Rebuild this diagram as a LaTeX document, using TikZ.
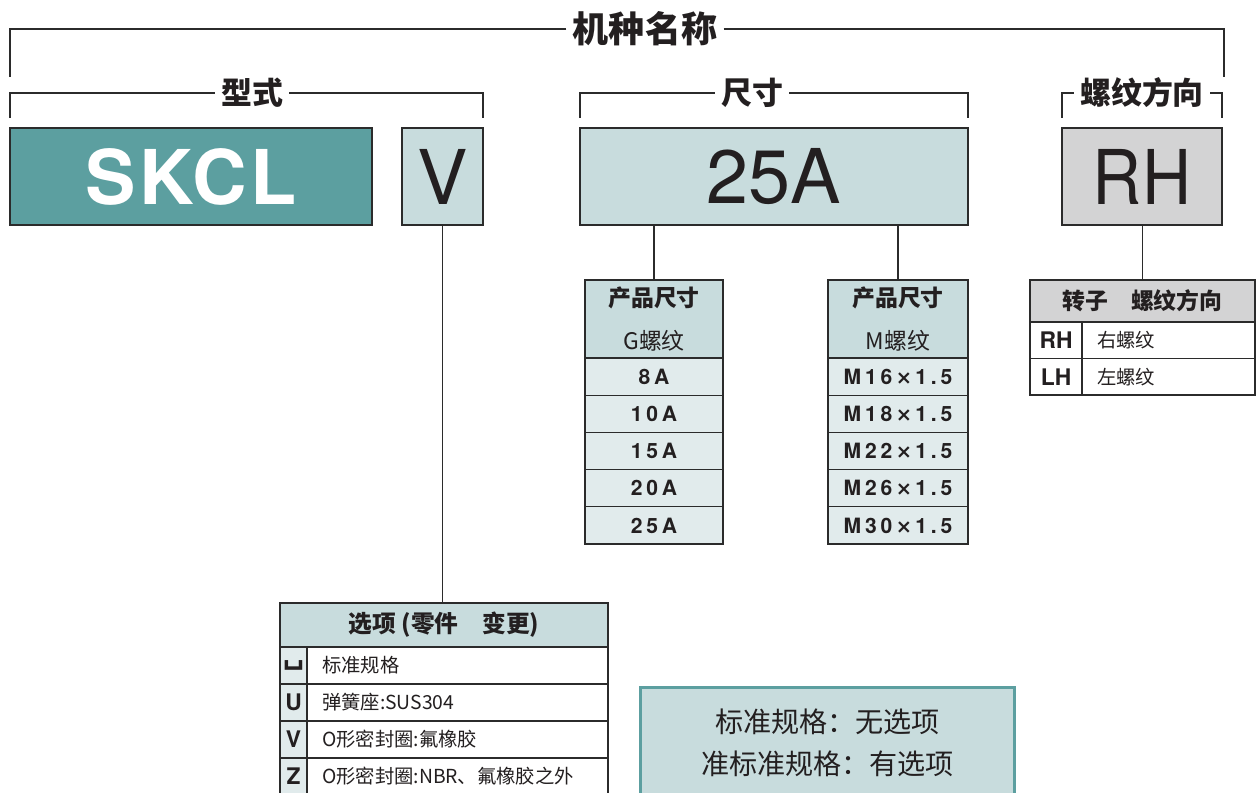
\documentclass[tikz,border=0pt]{standalone}
\usepackage{fontspec}
\setmainfont{Noto Sans CJK SC}
\newfontfamily\latinfont{TeX Gyre Heros}
\newfontfamily\breitfont{TeX Gyre Heros}[LetterSpace=4]
\newfontfamily\engfont{TeX Gyre Heros}[FakeStretch=0.9]
\newfontfamily\zahlfont{TeX Gyre Heros}[LetterSpace=18]
\newfontfamily\symbolfont{DejaVu Sans}
\usepackage{xcolor}
\usetikzlibrary{positioning,calc}
\definecolor{tuerkis}{HTML}{5C9FA0}
\definecolor{hellblau}{HTML}{C8DCDD}
\definecolor{zeile}{HTML}{E1EBEC}
\definecolor{grau}{HTML}{D3D3D4}
\definecolor{linie}{HTML}{2B2B2B}
\definecolor{schrift}{HTML}{231F20}
\newcommand{\mal}{{\symbolfont\bfseries\fontsize{11}{14}\selectfont ×}}
\tikzset{
  klammer/.style={draw=linie, line width=1.1pt},
  titel/.style={font=\bfseries\fontsize{17.6}{20}\selectfont, text=schrift, inner sep=3.5pt},
  feld/.style={draw=linie, line width=1.1pt, inner sep=0pt, outer sep=0pt, minimum height=1.94cm, text=schrift, font=\latinfont\fontsize{43}{48}\selectfont},
  zelle/.style={draw=linie, line width=0.7pt, inner sep=0pt, outer sep=0pt, text=schrift},
  rahmen/.style={draw=linie, line width=1.1pt},
  kopf/.style={zelle, font=\bfseries\fontsize{13}{16}\selectfont},
  code/.style={zelle, font=\latinfont\bfseries\fontsize{13}{15}\selectfont},
  eintrag/.style={zelle, align=left, inner xsep=0.3cm, font=\fontsize{11}{13}\selectfont},
}
\begin{document}
\begin{tikzpicture}[x=0.02cm, y=-0.02cm]
\useasboundingbox (0,0) rectangle (1256,792);
  \pgfmathsetmacro{\zh}{37.2}
  \pgfmathsetmacro{\oben}{358}
%Klammern mit Ueberschriften
\node[titel, font=\bfseries\fontsize{20.5}{24}\selectfont] (name) at (645,29) {机种名称};
\node[titel] (typ) at (252,93) {型式};
\node[titel] (groesse) at (752,93) {尺寸};
\node[titel] (richtung) at (1142,93) {螺纹方向};
%Kennzeichen
\node[feld, fill=tuerkis, text=white, minimum width=7.24cm, font=\breitfont\bfseries\fontsize{43}{48}\selectfont] (skcl) at (191,176.5) {SKCL};
\node[feld, fill=hellblau, minimum width=1.62cm] (v) at (442.5,176.5) {V};
\node[feld, fill=hellblau, minimum width=7.76cm] (a25) at (774,176.5) {25A};
\node[feld, fill=grau, minimum width=3.2cm, font=\engfont\fontsize{43}{48}\selectfont] (rh) at (1142,176.5) {RH};
\draw[klammer] (name.west) -| (10,77);
\draw[klammer] (name.east) -| (1224,77);
\draw[klammer] (typ.west) -| ([yshift=0.2cm]skcl.north west);
\draw[klammer] (typ.east) -| ([yshift=0.2cm]v.north east);
\draw[klammer] (groesse.west) -| ([yshift=0.2cm]a25.north west);
\draw[klammer] (groesse.east) -| ([yshift=0.2cm]a25.north east);
\draw[klammer] (richtung.west) -| ([yshift=0.2cm]rh.north west);
\draw[klammer] (richtung.east) -| ([yshift=0.2cm]rh.north east);
%Tabellen G- und M-Gewinde
\node[kopf, fill=hellblau, minimum width=2.76cm, minimum height=1.56cm, align=center, font=\fontsize{13}{24}\selectfont] (g0) at (654,319) {\bfseries 产品尺寸\\G螺纹};
\node[kopf, fill=hellblau, minimum width=2.8cm, minimum height=1.56cm, align=center, font=\fontsize{13}{24}\selectfont] (m0) at (898,319) {\bfseries 产品尺寸\\M螺纹};
\foreach \wert [count=\i] in {8A,10A,15A,20A,25A}{
  \node[zelle, fill=zeile, minimum width=2.76cm, minimum height=0.744cm, font=\zahlfont\bfseries\fontsize{12}{14}\selectfont] (g\i) at (654,{\oben+(\i-0.5)*\zh}) {\wert};
}
\foreach \wert [count=\i] in {16,18,22,26,30}{
  \node[zelle, fill=zeile, minimum width=2.8cm, minimum height=0.744cm, font=\zahlfont\bfseries\fontsize{12}{14}\selectfont] (m\i) at (898,{\oben+(\i-0.5)*\zh}) {M\wert\,\mal\,1.5};
}
\draw[rahmen] (g0.north west) rectangle (g5.south east);
\draw[rahmen] (g0.south west) -- (g0.south east);
\draw[rahmen] (m0.north west) rectangle (m5.south east);
\draw[rahmen] (m0.south west) -- (m0.south east);
\draw[klammer] (g0.north) -- (g0.north |- a25.south);
\draw[klammer] (m0.north) -- (m0.north |- a25.south);
%Drehrichtung
\node[kopf, fill=grau, minimum width=4.5cm, minimum height=0.84cm] (r0) at (1142.5,301) {转子　螺纹方向};
\foreach \kz/\txt [count=\i] in {RH/右螺纹,LH/左螺纹}{
  \node[code, fill=white, minimum width=1.04cm, minimum height=0.73cm] (rc\i) at (1056,{322+(\i-0.5)*36.5}) {\kz};
  \node[eintrag, fill=white, text width=2.86cm, minimum height=0.73cm] (rt\i) at (1168.5,{322+(\i-0.5)*36.5}) {\txt};
}
\draw[rahmen] (r0.north west) rectangle (rt2.south east);
\draw[rahmen] (r0.south west) -- (r0.south east);
\draw[klammer] (r0.north) -- (r0.north |- rh.south);
%Optionen
\node[kopf, fill=hellblau, minimum width=6.56cm, minimum height=0.88cm, font=\bfseries\fontsize{13.5}{16}\selectfont] (o0) at (444,625) {选项 (零件　变更)};
\foreach \kz/\txt [count=\i] in {{\symbolfont\fontsize{17}{17}\selectfont ␣}/标准规格,U/弹簧座:SUS304,V/O形密封圈:氟橡胶,Z/O形密封圈:NBR、氟橡胶之外}{
  \node[code, fill=zeile, minimum width=0.54cm, minimum height=0.74cm] (oc\i) at (293.5,{647+(\i-0.5)*37}) {\kz};
  \node[eintrag, fill=white, text width=5.42cm, minimum height=0.74cm] (ot\i) at (457.5,{647+(\i-0.5)*37}) {\txt};
}
\draw[rahmen] (o0.north west) rectangle (ot4.south east);
\draw[rahmen] (o0.south west) -- (o0.south east);
\draw[klammer] (v.south) -- (v.south |- o0.north);
%Hinweis
\node[draw=tuerkis, line width=1.7pt, fill=hellblau, minimum width=7.5cm, minimum height=2.2cm, anchor=north, align=center, text=schrift, font=\fontsize{16}{24}\selectfont] (hinweis) at (827.5,686) {标准规格：无选项\\准标准规格：有选项};
\end{tikzpicture}
\end{document}
